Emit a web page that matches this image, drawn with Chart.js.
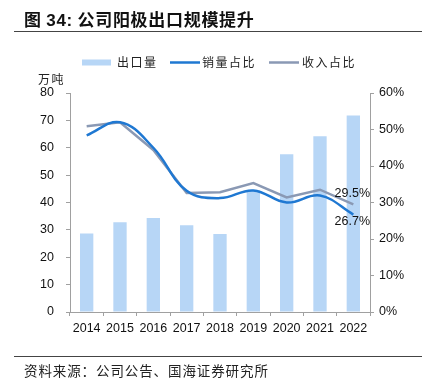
<!DOCTYPE html>
<html>
<head>
<meta charset="utf-8">
<script src="https://cdn.jsdelivr.net/npm/chart.js@4"></script>
<style>
  html, body { margin: 0; padding: 0; background: #fff; }
  #wrap { position: relative; width: 422px; height: 380px; overflow: hidden; }
  #c { position: absolute; left: 0; top: 0; }
  .title { position: absolute; left: 24px; top: 9px; font: bold 17px "Noto Sans CJK SC", sans-serif; line-height: 20px; color: #111; white-space: nowrap; letter-spacing: 0.7px; }
  .title .num { font-family: "Liberation Sans", Arial, sans-serif; }
  .rule { position: absolute; left: 14px; width: 408px; height: 1px; background: #444; }
  .foot { position: absolute; left: 24px; top: 362px; font: 13.5px "Noto Sans CJK SC", sans-serif; line-height: 16px; color: #222; white-space: nowrap; letter-spacing: 0.9px; }
</style>
</head>
<body>
<div id="wrap">
  <canvas id="c" width="422" height="380"></canvas>
  <div class="title">图 <span class="num">34:</span> 公司阳极出口规模提升</div>
  <div class="rule" style="top:31px"></div>
  <div class="rule" style="top:356px"></div>
  <div class="foot">资料来源：公司公告、国海证券研究所</div>
</div>
<script>
const categories = ['2014','2015','2016','2017','2018','2019','2020','2021','2022'];
const exportVolume = [28.7, 32.8, 34.3, 31.7, 28.5, 44.5, 57.6, 64.2, 71.8];
const salesShare   = [48.4, 52.0, 45.0, 33.2, 31.2, 33.3, 30.0, 31.9, 26.7];
const revenueShare = [50.9, 52.0, 44.4, 32.6, 32.8, 35.3, 31.4, 33.5, 29.5];
const seriesNames = ['出口量', '销量占比', '收入占比'];
const leftUnit = '万吨';

const barColor = '#b7d6f6';
const blueColor = '#1f78d2';
const grayColor = '#8a99b4';
const axisColor = '#a0a0a0';
const tickFont = { family: '"Liberation Sans", Arial, sans-serif', size: 12.5 };

const overlay = {
  id: 'overlay',
  afterDraw(chart) {
    const ctx = chart.ctx;
    ctx.save();
    // legend
    ctx.font = '12px "Noto Sans CJK SC", sans-serif';
    ctx.fillStyle = '#222';
    ctx.textBaseline = 'middle';
    ctx.textAlign = 'left';
    if ('letterSpacing' in ctx) ctx.letterSpacing = '1.5px';
    const ly = 62.5;
    ctx.fillStyle = barColor;
    ctx.fillRect(82, 59.5, 29, 6);
    ctx.fillStyle = '#222';
    ctx.fillText(seriesNames[0], 117, ly);
    ctx.strokeStyle = blueColor; ctx.lineWidth = 2.5;
    ctx.beginPath(); ctx.moveTo(170, ly); ctx.lineTo(200, ly); ctx.stroke();
    ctx.fillText(seriesNames[1], 202, ly);
    ctx.strokeStyle = grayColor;
    ctx.beginPath(); ctx.moveTo(269, ly); ctx.lineTo(299, ly); ctx.stroke();
    ctx.fillText(seriesNames[2], 302, ly);
    // unit
    ctx.fillText(leftUnit, 38, 79);
    if ('letterSpacing' in ctx) ctx.letterSpacing = '0px';
    // data labels for last points
    ctx.font = '12.5px "Liberation Sans", Arial, sans-serif';
    ctx.fillStyle = '#111';
    ctx.textAlign = 'center';
    const last = categories.length - 1;
    const gp = chart.getDatasetMeta(2).data[last];
    const bp = chart.getDatasetMeta(1).data[last];
    ctx.fillText(revenueShare[last].toFixed(1) + '%', gp.x - 1, gp.y - 11);
    ctx.fillText(salesShare[last].toFixed(1) + '%', bp.x - 1, bp.y + 7);
    ctx.restore();
  }
};

new Chart(document.getElementById('c'), {
  type: 'bar',
  data: {
    labels: categories,
    datasets: [
      { type: 'bar', label: seriesNames[0], data: exportVolume, backgroundColor: barColor,
        yAxisID: 'y', categoryPercentage: 0.8, barPercentage: 0.5, order: 3 },
      { type: 'line', label: seriesNames[1], data: salesShare, borderColor: blueColor,
        borderWidth: 2.5, pointRadius: 0, tension: 0.4, cubicInterpolationMode: 'default', yAxisID: 'y1', order: 1 },
      { type: 'line', label: seriesNames[2], data: revenueShare, borderColor: grayColor,
        borderWidth: 2.5, pointRadius: 0, tension: 0, yAxisID: 'y1', order: 2 }
    ]
  },
  options: {
    responsive: false,
    animation: false,
    devicePixelRatio: 1,
    layout: { padding: { top: 93, left: 0, right: 0, bottom: 0 } },
    plugins: { legend: { display: false }, tooltip: { enabled: false } },
    scales: {
      x: {
        afterFit: s => { s.height = 68; },
        grid: { display: true, drawOnChartArea: false, drawTicks: true, tickLength: 4, color: axisColor, offset: true },
        border: { display: true, color: axisColor },
        ticks: { color: '#111', font: tickFont, padding: 5, maxRotation: 0 }
      },
      y: {
        position: 'left', min: 0, max: 80,
        afterFit: s => { s.width = 70; },
        grid: { display: true, drawOnChartArea: false, drawTicks: true, tickLength: 4, color: axisColor },
        border: { display: true, color: axisColor },
        ticks: { stepSize: 10, color: '#111', font: tickFont, padding: 12 }
      },
      y1: {
        position: 'right', min: 0, max: 60,
        afterFit: s => { s.width = 52; },
        grid: { display: true, drawOnChartArea: false, drawTicks: true, tickLength: 4, color: axisColor },
        border: { display: true, color: axisColor },
        ticks: { stepSize: 10, color: '#111', font: tickFont, padding: 5, callback: v => v + '%' }
      }
    }
  },
  plugins: [overlay]
});
</script>
</body>
</html>
